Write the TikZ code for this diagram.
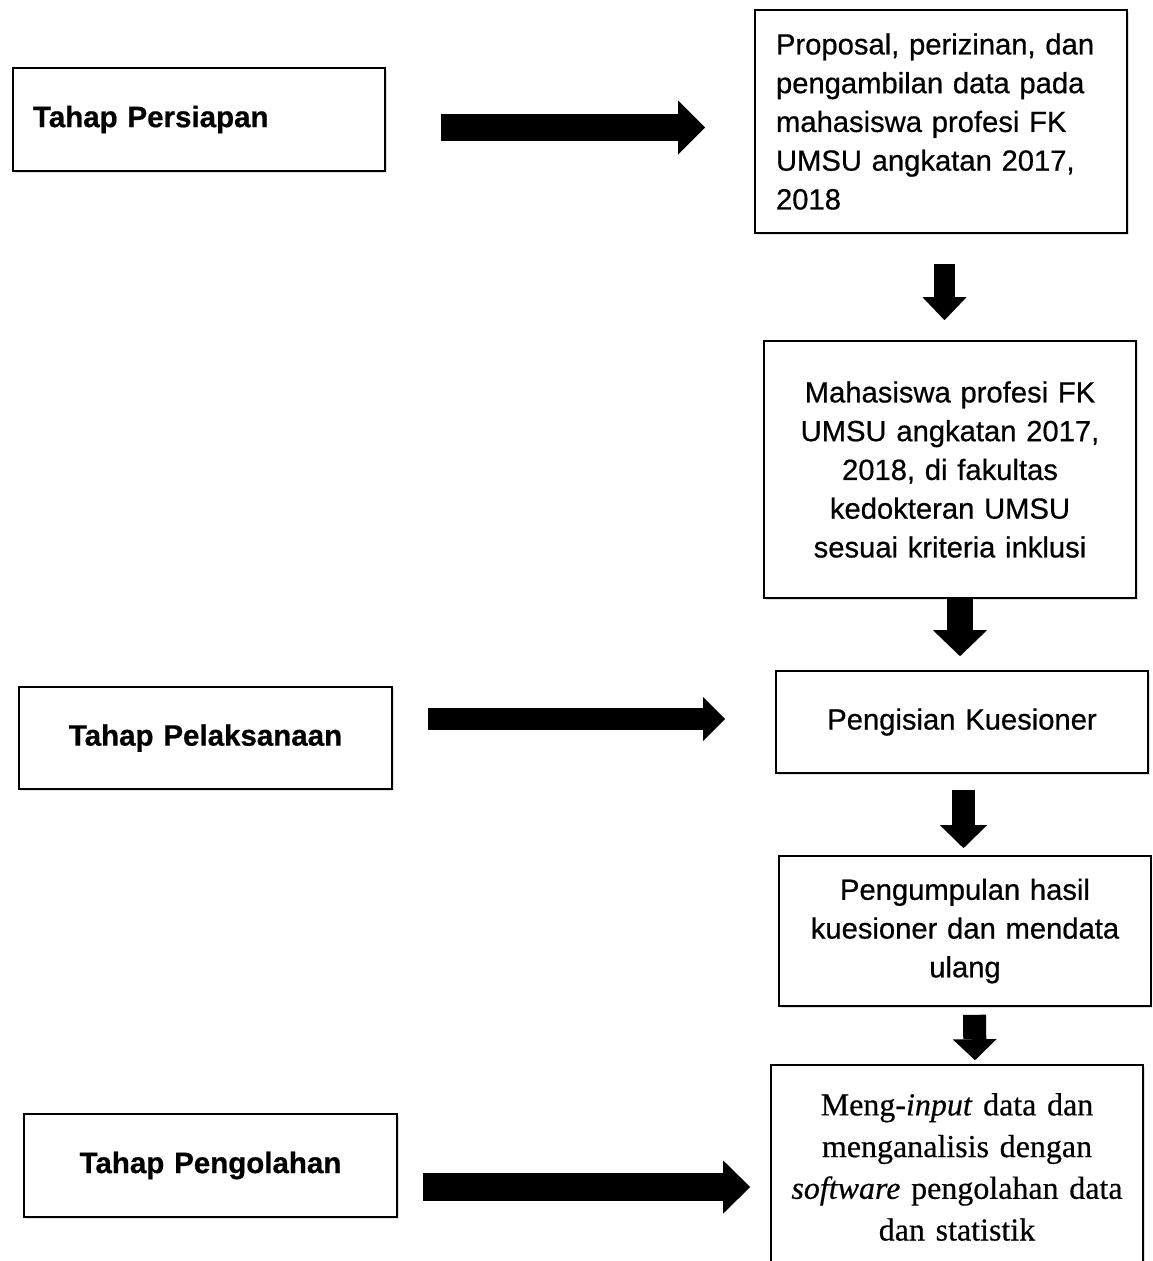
\documentclass[tikz,border=0pt]{standalone}
\usepackage{fontspec}
\setmainfont{Liberation Sans}[RawFeature={embolden=0.6}]
\newfontfamily\tnr{Liberation Serif}[RawFeature={embolden=0.5}]
\usetikzlibrary{arrows.meta,shadows}
\begin{document}
\begin{tikzpicture}[x=1pt,y=-1pt,
  box/.style={draw=black, line width=1.6pt, fill=white, inner sep=0pt,
    minimum width=372pt,
    drop shadow={shadow xshift=1.5pt, shadow yshift=-2pt, opacity=0.25}},
  sanstxt/.style={font=\fontsize{29.2}{38.75}\selectfont},
  boldtxt/.style={font=\fontsize{29.5}{38.75}\selectfont\bfseries},
  seriftxt/.style={font=\fontsize{32}{41.7}\selectfont\tnr},
  barrow/.style n args={3}{line width=#1,
    -{Triangle[width=#2,length=#3,line width=0pt]}}
]
\path[use as bounding box, clip] (0,0) rectangle (1152,1261);

% left stage boxes
\node[box, boldtxt, minimum height=103pt, text width=332pt, inner xsep=20pt, align=left]
  (b1) at (199,119.5) {Tahap Persiapan};
\node[box, boldtxt, minimum width=373pt, minimum height=102pt, text width=341pt, inner xsep=16pt, align=center]
  (b5) at (205.5,738) {Tahap Pelaksanaan};
\node[box, boldtxt, minimum width=373pt, minimum height=103pt, text width=341pt, inner xsep=16pt, align=center]
  (b8) at (210.5,1165.5) {Tahap Pengolahan};

% right process boxes
\node[box, sanstxt, minimum height=223pt, text width=330pt, inner xsep=21pt, align=left]
  (b2) at (941,121.5) {Proposal, perizinan, dan\\pengambilan data pada\\mahasiswa profesi FK\\UMSU angkatan 2017,\\2018};
\node[box, sanstxt, minimum height=257pt, text width=340pt, inner xsep=16pt, align=center]
  (b3) at (950,469.5) {Mahasiswa profesi FK\\UMSU angkatan 2017,\\2018, di fakultas\\kedokteran UMSU\\sesuai kriteria inklusi};
\node[box, sanstxt, minimum height=102pt, text width=340pt, inner xsep=16pt, align=center]
  (b4) at (962,722) {Pengisian Kuesioner};
\node[box, sanstxt, minimum height=150pt, text width=340pt, inner xsep=16pt, align=center]
  (b6) at (965,931) {Pengumpulan hasil\\kuesioner dan mendata\\ulang};
\node[box, seriftxt, minimum height=204pt, text width=350pt, inner xsep=11pt, align=center]
  (b7) at (957,1167) {Meng-\textit{input} data dan\\menganalisis dengan\\\textit{software} pengolahan data\\dan statistik\\[-4pt]};

% horizontal block arrows
\draw[barrow={27pt}{54pt}{27pt}] ([xshift=55pt,yshift=-8pt]b1.east) -- ([xshift=-49pt,yshift=-6pt]b2.west);
\draw[barrow={22pt}{44pt}{22pt}] ([xshift=35pt,yshift=19pt]b5.east) -- ([xshift=-50pt,yshift=3pt]b4.west);
\draw[barrow={28pt}{53pt}{27pt}] ([xshift=25pt,yshift=-21.5pt]b8.east) -- ([xshift=-20pt,yshift=-20pt]b7.west);

% vertical block arrows
\draw[barrow={21pt}{44pt}{23pt}] ([xshift=3.5pt,yshift=-30pt]b2.south) -- ([xshift=-5.5pt,yshift=20pt]b3.north);
\draw[barrow={26pt}{54pt}{26pt}] ([xshift=10pt]b3.south) -- ([xshift=-2pt,yshift=14pt]b4.north);
\draw[barrow={23pt}{47pt}{23pt}] ([xshift=1.5pt,yshift=-16pt]b4.south) -- ([xshift=-1.5pt,yshift=7pt]b6.north);
\draw[barrow={23pt}{44pt}{21pt}] ([xshift=9.5pt,yshift=-8pt]b6.south) -- ([xshift=18pt,yshift=4pt]b7.north);
\end{tikzpicture}
\end{document}
